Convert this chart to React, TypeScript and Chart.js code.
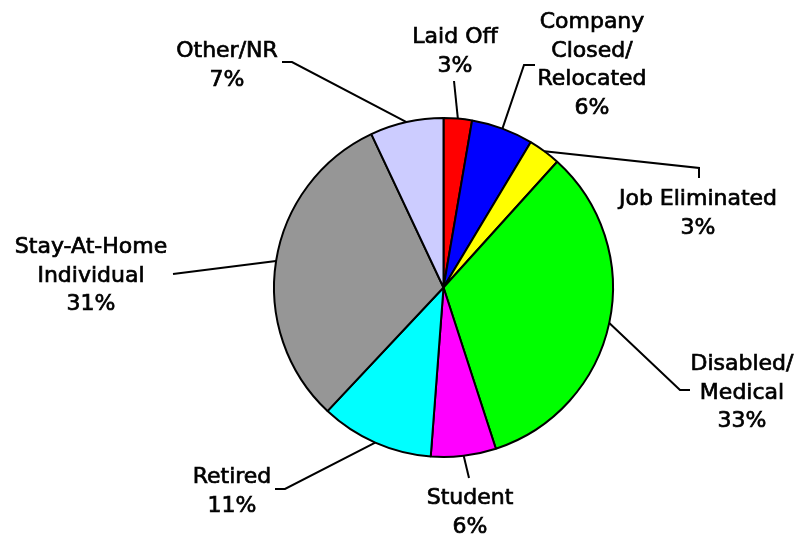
import React, { useEffect, useRef } from "react";
import { Chart, registerables } from "chart.js";

Chart.register(...registerables);

// ---- data ----
const CATEGORIES: string[][] = [
  ["Laid Off"],
  ["Company", "Closed/", "Relocated"],
  ["Job Eliminated"],
  ["Disabled/", "Medical"],
  ["Student"],
  ["Retired"],
  ["Stay-At-Home", "Individual"],
  ["Other/NR"],
];
const VALUES: number[] = [2.7, 5.9, 3.1, 33.3, 6.2, 10.8, 31.0, 7.0];
const PERCENT_LABELS: string[] = ["3%", "6%", "3%", "33%", "6%", "11%", "31%", "7%"];
const COLORS: string[] = [
  "#FF0000",
  "#0000FF",
  "#FFFF00",
  "#00FF00",
  "#FF00FF",
  "#00FFFF",
  "#969696",
  "#CCCCFF",
];

// ---- label layout (text anchor: center x, first baseline y; leader elbow & end) ----
type LabelLayout = { tx: number; ty: number; pts: [number, number][] };
const LABEL_LAYOUT: LabelLayout[] = [
  { tx: 455, ty: 43, pts: [[454, 81]] },
  { tx: 592, ty: 28, pts: [[524, 65], [535, 65]] },
  { tx: 698, ty: 205, pts: [[699, 168], [699, 178]] },
  { tx: 742, ty: 370, pts: [[680, 390], [690, 390]] },
  { tx: 470, ty: 504, pts: [[469, 478]] },
  { tx: 232, ty: 483, pts: [[285, 489], [275, 489]] },
  { tx: 91, ty: 253, pts: [[173, 274]] },
  { tx: 227, ty: 57, pts: [[292, 62], [282, 62]] },
];
const LINE_HEIGHT = 28.5;
const FONT = "22px 'DejaVu Sans', Verdana, sans-serif";

const labelPlugin = {
  id: "leaderLabels",
  afterDraw(chart: any) {
    const ctx = chart.ctx as CanvasRenderingContext2D;
    const meta = chart.getDatasetMeta(0);
    ctx.save();
    ctx.strokeStyle = "#000";
    ctx.fillStyle = "#000";
    ctx.font = FONT;
    ctx.textAlign = "center";
    ctx.textBaseline = "alphabetic";
    ctx.lineJoin = "miter";
    meta.data.forEach((arc: any, i: number) => {
      const p = arc.getProps(["x", "y", "startAngle", "endAngle", "outerRadius"], true);
      const mid = (p.startAngle + p.endAngle) / 2;
      const sx = p.x + Math.cos(mid) * p.outerRadius;
      const sy = p.y + Math.sin(mid) * p.outerRadius;
      const lay = LABEL_LAYOUT[i];
      ctx.lineWidth = 2;
      ctx.beginPath();
      ctx.moveTo(sx, sy);
      lay.pts.forEach(([px, py]) => ctx.lineTo(px, py));
      ctx.stroke();
      const lines = [...CATEGORIES[i], PERCENT_LABELS[i]];
      ctx.lineWidth = 0.7;
      lines.forEach((t, k) => {
        ctx.fillText(t, lay.tx, lay.ty + k * LINE_HEIGHT);
        ctx.strokeText(t, lay.tx, lay.ty + k * LINE_HEIGHT);
      });
    });
    ctx.restore();
  },
};

export default function App() {
  const ref = useRef<HTMLCanvasElement | null>(null);
  useEffect(() => {
    if (!ref.current) return;
    const chart = new Chart(ref.current, {
      type: "pie",
      data: {
        labels: CATEGORIES.map((c) => c.join(" ")),
        datasets: [
          {
            data: VALUES,
            backgroundColor: COLORS,
            borderColor: "#000000",
            borderWidth: 2,
          },
        ],
      },
      options: {
        responsive: false,
        animation: false,
        layout: { padding: { left: 273, right: 182, top: 117, bottom: 77 } },
        plugins: {
          legend: { display: false },
          tooltip: { enabled: false },
        },
      },
      plugins: [labelPlugin],
    });
    return () => chart.destroy();
  }, []);
  return (
    <div style={{ position: "absolute", left: 0, top: 0, width: 796, height: 535, background: "#fff" }}>
      <canvas ref={ref} width={796} height={535} style={{ display: "block" }} />
    </div>
  );
}
